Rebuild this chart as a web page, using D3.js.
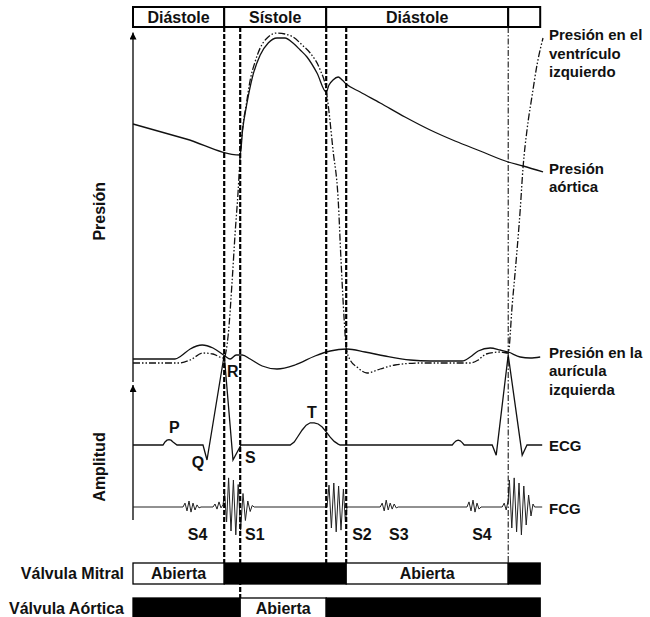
<!DOCTYPE html>
<html>
<head>
<meta charset="utf-8">
<script src="https://cdn.jsdelivr.net/npm/d3@7"></script>
<style>
  body { margin: 0; background: #fff; }
  svg text { font-family: "Liberation Sans", Arial, sans-serif; font-weight: bold; font-size: 16px; fill: #111; }
  svg text.side { font-size: 15px; }
</style>
</head>
<body>
<svg id="chart" width="650" height="617"></svg>
<script>
// ---- datos (tiempo en ms, presión en mmHg, ECG en mV) ----
const cycleEdges = [0, 228, 483, 938, 1018];
const cycleLabels = ["Diástole", "Sístole", "Diástole", ""];

const mitralEdges = [0, 228, 533, 938, 1018];
const mitralState = ["Abierta", "Cerrada", "Abierta", "Cerrada"];
const aorticEdges = [0, 268, 483, 1018];
const aorticState = ["Cerrada", "Abierta", "Cerrada"];

// R, apertura aórtica, cierre aórtico, apertura mitral, R
const eventTimes = [228, 268, 483, 533, 938];

const aorticPressure = [[0,100.4],[133,94.4],[268,88],[274,98],[285,108.8],[298,118.8],[318,128],[338,132.8],[360,134.8],[380,134.8],[400,132.8],[418,130],[435,127.2],[460,120.8],[483,113.2],[490,116],[500,118],[513,119.2],[523,118],[533,116.4],[568,113.2],[618,108.8],[680,103.2],[743,98],[805,93.6],[868,89.6],[938,85.2],[975,83.6],[1025,81.2]];

const lvPressure = [[0,4.8],[113,4.8],[143,6],[175,8.8],[200,8.4],[225,6.8],[228,7],[238,16],[248,38],[255,56],[263,74],[268,88],[275,100],[283,108],[293,118],[305,125.2],[318,130.8],[338,135.2],[360,136.8],[380,136.4],[400,135.2],[423,132],[443,128.8],[468,122],[483,114],[488,108],[500,90],[513,70],[520,46],[528,22],[533,10.8],[543,6],[560,3.2],[585,0.8],[618,2.4],[655,4],[718,4.8],[843,4.8],[863,6],[883,8.4],[918,9.2],[938,8.8],[948,28],[958,46],[968,66],[975,82.8],[985,98],[998,112],[1010,124],[1025,134.8]];

const laPressure = [[0,6.4],[105,6.4],[120,7.6],[143,10.4],[173,12],[200,10.8],[230,7.6],[243,6.4],[258,8],[273,8],[293,6.4],[323,3.6],[360,2.4],[405,4],[455,7.6],[493,9.6],[535,10.4],[580,9.2],[630,7.6],[693,6],[743,5.6],[823,5.6],[843,7.2],[863,9.6],[893,10.8],[918,10],[938,9.2],[968,7.2],[993,6.8],[1018,7.2]];

const ecg = [[0,0],[75,0],[80,0.05],[85,0.08],[90,0.09],[95,0.08],[100,0.05],[110,0],[175,0],[185,-0.25],[228,1.5],[250,-0.25],[270,0],[393,0],[403,0.05],[413,0.15],[423,0.25],[433,0.33],[443,0.37],[453,0.37],[463,0.35],[473,0.3],[483,0.22],[493,0.13],[503,0.06],[513,0.015],[518,0],[798,0],[803,0.04],[808,0.07],[813,0.08],[818,0.07],[823,0.04],[828,0],[898,0],[908,-0.17],[938,1.5],[973,-0.17],[985,0],[1023,0]];

const fcg = [[0,0],[125,0],[130,0.13],[135,-0.13],[140,0.2],[145,-0.17],[150,0.13],[155,-0.1],[160,0.07],[165,-0.03],[170,0],
  [200,0],[205,0.1],[210,-0.07],[215,0.17],[220,-0.03],[225,0.07],
  [229,0.45],[234,-0.5],[239,0.97],[245,-0.8],[251,0.9],[257,-0.93],[263,0.75],[269,-0.77],[275,0.45],[281,-0.45],[287,0.2],[293,-0.15],[298,0.05],[303,0],
  [485,0],[490,0.73],[496,-0.7],[502,0.8],[508,-0.83],[514,0.7],[520,-0.77],[526,0.6],[531,-0.5],[535,0],
  [618,0],[623,0.13],[628,-0.13],[633,0.23],[638,-0.1],[643,0.13],[648,-0.07],[653,0.1],[658,-0.03],[663,0],
  [835,0],[840,0.17],[845,-0.13],[850,0.23],[855,-0.17],[860,0.13],[865,-0.07],[870,0],
  [923,0],[928,0.13],[933,-0.1],[938,0.23],[941,0.9],[947,-0.7],[953,0.97],[959,-0.83],[965,0.8],[971,-0.93],[977,0.7],[983,-0.6],[989,0.4],[995,-0.3],[1000,0.1],[1004,0],[1023,0]];

const ecgWaveLabels = [["P", 90, 0.2], ["Q", 147, -0.38], ["R", 235, 1.13], ["S", 280, -0.3], ["T", 435, 0.45]];
const soundLabels = [["S4", 137], ["S1", 280], ["S2", 548], ["S3", 640], ["S4", 848]];

const lvLabel = ["Presión en el", "ventrículo", "izquierdo"];
const aoLabel = ["Presión", "aórtica"];
const laLabel = ["Presión en la", "aurícula", "izquierda"];

// ---- escalas ----
const x = d3.scaleLinear().domain([0, 1025]).range([133, 543]);
const yP = d3.scaleLinear().domain([0, 140]).range([375, 25]);
const yE = d3.scaleLinear().domain([0, 1.5]).range([445, 355]);
const yF = d3.scaleLinear().domain([-1, 1]).range([537, 477]);

const svg = d3.select("#chart");

svg.append("defs").append("marker")
    .attr("id", "arrow")
    .attr("viewBox", "0 0 10 10")
    .attr("refX", 10).attr("refY", 5)
    .attr("markerWidth", 7).attr("markerHeight", 7)
    .attr("markerUnits", "userSpaceOnUse")
    .attr("orient", "auto")
    .append("path").attr("d", "M0,0L10,5L0,10z").attr("fill", "#000");

// ejes con flecha
const axisX = x(0);
svg.append("line").attr("x1", axisX).attr("x2", axisX).attr("y1", yP(-2.8)).attr("y2", yP(137))
    .attr("stroke", "#000").attr("stroke-width", 1.3).attr("marker-end", "url(#arrow)");
svg.append("line").attr("x1", axisX).attr("x2", axisX).attr("y1", yF(-0.43)).attr("y2", yE(1.0))
    .attr("stroke", "#000").attr("stroke-width", 1.3).attr("marker-end", "url(#arrow)");

svg.append("text").attr("transform", `translate(105,${(yP(137) + yP(-2.8)) / 2 + 4}) rotate(-90)`)
    .attr("text-anchor", "middle").text("Presión");
svg.append("text").attr("transform", "translate(105,467) rotate(-90)")
    .attr("text-anchor", "middle").text("Amplitud");

// barra superior de fases
const barTop = 7, barH = 20;
const bar = svg.append("g");
cycleLabels.forEach((lab, i) => {
    const x0 = x(cycleEdges[i]), x1 = x(cycleEdges[i + 1]);
    bar.append("rect").attr("x", x0).attr("y", barTop).attr("width", x1 - x0).attr("height", barH)
        .attr("fill", "#fff").attr("stroke", "#000").attr("stroke-width", 2);
    bar.append("text").attr("x", (x0 + x1) / 2).attr("y", barTop + 16).attr("text-anchor", "middle").text(lab);
});

// curvas de presión
const pline = d3.line().x(d => x(d[0])).y(d => yP(d[1])).curve(d3.curveMonotoneX);
svg.append("path").datum(aorticPressure).attr("d", pline)
    .attr("fill", "none").attr("stroke", "#111").attr("stroke-width", 1.3);
svg.append("path").datum(laPressure).attr("d", pline)
    .attr("fill", "none").attr("stroke", "#111").attr("stroke-width", 1.3);
svg.append("path").datum(lvPressure).attr("d", pline)
    .attr("fill", "none").attr("stroke", "#111").attr("stroke-width", 1.3)
    .attr("stroke-dasharray", "7,2,1.5,2,1.5,2");

// ECG y FCG
svg.append("path").datum(ecg)
    .attr("d", d3.line().x(d => x(d[0])).y(d => yE(d[1])))
    .attr("fill", "none").attr("stroke", "#111").attr("stroke-width", 1.3);
svg.append("path").datum(fcg)
    .attr("d", d3.line().x(d => x(d[0])).y(d => yF(d[1])))
    .attr("fill", "none").attr("stroke", "#222").attr("stroke-width", 1);

svg.selectAll(".wave").data(ecgWaveLabels).join("text")
    .attr("x", d => x(d[1])).attr("y", d => yE(d[2])).text(d => d[0]);
svg.selectAll(".snd").data(soundLabels).join("text")
    .attr("x", d => x(d[1])).attr("y", yF(-1.1)).text(d => d[0]);

// válvulas
const mitralY = 563, aorticY = 598, valveH = 21;
function valveBar(edges, states, y0, name) {
    const g = svg.append("g");
    states.forEach((s, i) => {
        const x0 = x(edges[i]), x1 = x(edges[i + 1]);
        const open = s === "Abierta";
        g.append("rect").attr("x", x0).attr("y", y0).attr("width", x1 - x0).attr("height", valveH)
            .attr("fill", open ? "#fff" : "#000").attr("stroke", "#000").attr("stroke-width", 1.3);
        if (open) g.append("text").attr("x", (x0 + x1) / 2).attr("y", y0 + 16)
            .attr("text-anchor", "middle").text(s);
    });
    g.append("text").attr("x", 124).attr("y", y0 + 16).attr("text-anchor", "end").text(name);
}
valveBar(mitralEdges, mitralState, mitralY, "Válvula Mitral");
valveBar(aorticEdges, aorticState, aorticY, "Válvula Aórtica");

// líneas verticales de eventos
svg.selectAll(".ev").data(eventTimes).join("line")
    .attr("x1", d => x(d)).attr("x2", d => x(d))
    .attr("y1", barTop + barH)
    .attr("y2", (d, i) => i === 1 ? aorticY : mitralY)
    .attr("stroke", "#000")
    .attr("stroke-width", (d, i) => i === 4 ? 1 : 2.2)
    .attr("stroke-dasharray", (d, i) => i === 4 ? "6,2,1.5,2" : "5,2");

// rótulos a la derecha
const lx = 549;
function multiLabel(lines, yTop) {
    lines.forEach((s, i) => svg.append("text").attr("class", "side")
        .attr("x", lx).attr("y", yTop + i * 18.5).text(s));
}
multiLabel(lvLabel, yP(134));
multiLabel(aoLabel, yP(80.5));
multiLabel(laLabel, yP(7));
svg.append("text").attr("class", "side").attr("x", lx).attr("y", yE(-0.1)).text("ECG");
svg.append("text").attr("class", "side").attr("x", lx).attr("y", yF(-0.23)).text("FCG");
</script>
</body>
</html>
